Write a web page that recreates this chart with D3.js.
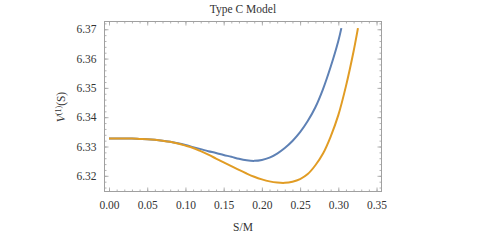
<!DOCTYPE html>
<html>
<head>
<meta charset="utf-8">
<script src="https://cdn.jsdelivr.net/npm/d3@7"></script>
<style>
  body { margin: 0; background: #fff; }
  svg text { font-family: "Liberation Serif", "DejaVu Serif", serif; fill: #333; }
</style>
</head>
<body>
<svg id="chart" width="486" height="242"></svg>
<script>
/*** DATA ***/
//S/M sample points
var blueX = [0.00, 0.01, 0.02, 0.03, 0.04, 0.05, 0.06, 0.07, 0.08, 0.09, 0.10, 0.11, 0.12, 0.13, 0.14, 0.15, 0.16, 0.17, 0.18, 0.19, 0.20, 0.21, 0.22, 0.23, 0.24, 0.25, 0.26, 0.27, 0.28, 0.29, 0.30, 0.304];
var blueY = [6.3327, 6.3327, 6.3327, 6.3327, 6.3326, 6.3325, 6.3323, 6.3320, 6.3316, 6.3311, 6.3305, 6.3298, 6.3291, 6.3284, 6.3278, 6.3271, 6.3265, 6.3258, 6.3253, 6.3251, 6.3254, 6.3262, 6.3276, 6.3295, 6.3319, 6.3349, 6.3387, 6.3434, 6.3496, 6.3572, 6.3660, 6.3704];

var orangeX = [0.00, 0.01, 0.02, 0.03, 0.04, 0.05, 0.06, 0.07, 0.08, 0.09, 0.10, 0.11, 0.12, 0.13, 0.14, 0.15, 0.16, 0.17, 0.18, 0.19, 0.20, 0.21, 0.22, 0.23, 0.24, 0.25, 0.26, 0.27, 0.28, 0.29, 0.30, 0.31, 0.32, 0.3257];
var orangeY = [6.3327, 6.3327, 6.3327, 6.3327, 6.3326, 6.3325, 6.3323, 6.3320, 6.3316, 6.3310, 6.3303, 6.3295, 6.3284, 6.3272, 6.3259, 6.3246, 6.3233, 6.3220, 6.3208, 6.3197, 6.3188, 6.3181, 6.3177, 6.3176, 6.3180, 6.3189, 6.3206, 6.3236, 6.3276, 6.3334, 6.3407, 6.3506, 6.3625, 6.3704];

var xTicks = [0, 0.05, 0.10, 0.15, 0.20, 0.25, 0.30, 0.35];
var yTicks = [6.32, 6.33, 6.34, 6.35, 6.36, 6.37];

var colorBlue = '#5e81b5';
var colorOrange = '#e19c24';
var colorFrame = '#a0a0a0';

/*** CHART ***/
var svg = d3.select('#chart');
var frameL = 104.5, frameR = 381.5, frameT = 21.5, frameB = 191.5;

var x = d3.scaleLinear().domain([-0.0059, 0.3565]).range([frameL, frameR]);
var y = d3.scaleLinear().domain([6.31465, 6.37265]).range([frameB, frameT]);

//minor ticks
var xMinor = d3.range(0, 0.3501, 0.01);
var yMinor = d3.range(6.316, 6.3721, 0.002);

//axes, ticks point inward
var fmt = d3.format('.2f');
var xAxisB = d3.axisBottom(x).tickValues(xTicks).tickSize(-4).tickPadding(9).tickFormat(fmt);
var xAxisT = d3.axisTop(x).tickValues(xTicks).tickSize(-4).tickFormat('');
var yAxisL = d3.axisLeft(y).tickValues(yTicks).tickSize(-4).tickPadding(8).tickFormat(fmt);
var yAxisR = d3.axisRight(y).tickValues(yTicks).tickSize(-4).tickFormat('');

function minor(axisFn, scale, vals) {
  return axisFn(scale).tickValues(vals).tickSize(-2).tickFormat('');
}

var gB = svg.append('g').attr('transform', 'translate(0,' + frameB + ')');
gB.call(minor(d3.axisBottom, x, xMinor));
gB.append('g').call(xAxisB);
var gT = svg.append('g').attr('transform', 'translate(0,' + frameT + ')');
gT.call(minor(d3.axisTop, x, xMinor));
gT.append('g').call(xAxisT);
var gL = svg.append('g').attr('transform', 'translate(' + frameL + ',0)');
gL.call(minor(d3.axisLeft, y, yMinor));
gL.append('g').call(yAxisL);
var gR = svg.append('g').attr('transform', 'translate(' + frameR + ',0)');
gR.call(minor(d3.axisRight, y, yMinor));
gR.append('g').call(yAxisR);

svg.selectAll('.domain').remove();
svg.selectAll('.tick line').attr('stroke', colorFrame).attr('stroke-width', 0.8);
svg.selectAll('.tick text').attr('font-size', 11.5).attr('fill', '#333')
  .style('font-family', '"Liberation Serif", "DejaVu Serif", serif');

//frame
svg.append('rect')
  .attr('x', frameL).attr('y', frameT)
  .attr('width', frameR - frameL).attr('height', frameB - frameT)
  .attr('fill', 'none').attr('stroke', colorFrame).attr('stroke-width', 1);

//lines
var line = d3.line()
  .x(function(d) { return x(d[0]); })
  .y(function(d) { return y(d[1]); })
  .curve(d3.curveCatmullRom.alpha(0.5));

var blueData = d3.zip(blueX, blueY);
var orangeData = d3.zip(orangeX, orangeY);

svg.append('path').datum(blueData)
  .attr('d', line).attr('fill', 'none')
  .attr('stroke', colorBlue).attr('stroke-width', 2);
svg.append('path').datum(orangeData)
  .attr('d', line).attr('fill', 'none')
  .attr('stroke', colorOrange).attr('stroke-width', 2);

//title and labels
svg.append('text').attr('x', 243).attr('y', 13)
  .attr('text-anchor', 'middle').attr('font-size', 11.5).text('Type C Model');

svg.append('text').attr('x', 243).attr('y', 231)
  .attr('text-anchor', 'middle').attr('font-size', 11.5).text('S/M');

var yl = svg.append('text')
  .attr('transform', 'translate(65,107) rotate(-90)')
  .attr('text-anchor', 'middle').attr('font-size', 11.5);
yl.append('tspan').attr('font-style', 'italic').text('V');
yl.append('tspan').attr('font-size', 8).attr('dy', -4).text('(1)');
yl.append('tspan').attr('dy', 4).text('(S)');
</script>
</body>
</html>
